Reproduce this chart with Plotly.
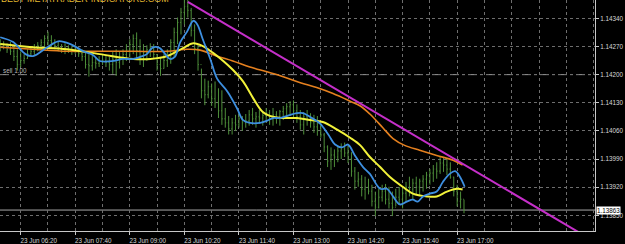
import plotly.graph_objects as go
import pandas as pd

# ---------------- data (M5 bars, 23 Jun) ----------------
day = "2016-06-23"
bar_start = "05:50"

highs = [
    1.14288, 1.14283, 1.14278, 1.14281, 1.14273, 1.14263, 1.14258, 1.14251, 1.14263, 1.14268,
    1.14276, 1.14281, 1.14288, 1.14298, 1.14307, 1.14298, 1.14288, 1.14283, 1.14276, 1.14278,
    1.14273, 1.14271, 1.14273, 1.14268, 1.14263, 1.14258, 1.14251, 1.14249, 1.14244, 1.14246,
    1.14251, 1.14249, 1.14244, 1.14258, 1.14263, 1.14258, 1.14263, 1.14276, 1.14288, 1.14300,
    1.14305, 1.14288, 1.14276, 1.14273, 1.14278, 1.14276, 1.14251, 1.14244, 1.14251, 1.14263,
    1.14288, 1.14317, 1.14342, 1.14366, 1.14386, 1.14398, 1.14366, 1.14325, 1.14276, 1.14215,
    1.14190, 1.14185, 1.14178, 1.14183, 1.14166, 1.14161, 1.14117, 1.14097, 1.14092, 1.14100,
    1.14104, 1.14097, 1.14102, 1.14112, 1.14117, 1.14107, 1.14112, 1.14109, 1.14117, 1.14112,
    1.14117, 1.14109, 1.14112, 1.14122, 1.14129, 1.14134, 1.14136, 1.14126, 1.14112, 1.14107,
    1.14112, 1.14104, 1.14100, 1.14097, 1.14080, 1.14055, 1.14024, 1.14019, 1.14014, 1.14024,
    1.14029, 1.14031, 1.14024, 1.14007, 1.13970, 1.13958, 1.13950, 1.13946, 1.13941, 1.13926,
    1.13909, 1.13916, 1.13926, 1.13928, 1.13921, 1.13909, 1.13916, 1.13921, 1.13916, 1.13933,
    1.13946, 1.13941, 1.13946, 1.13941, 1.13950, 1.13958, 1.13965, 1.13975, 1.13982, 1.13995,
    1.13995, 1.13990, 1.13982, 1.13946, 1.13926, 1.13909, 1.13889,
]
lows = [
    1.14258, 1.14263, 1.14254, 1.14249, 1.14234, 1.14210, 1.14219, 1.14227, 1.14239, 1.14244,
    1.14249, 1.14258, 1.14263, 1.14268, 1.14273, 1.14268, 1.14263, 1.14258, 1.14254, 1.14251,
    1.14254, 1.14249, 1.14251, 1.14244, 1.14234, 1.14215, 1.14195, 1.14210, 1.14215, 1.14219,
    1.14224, 1.14219, 1.14210, 1.14202, 1.14197, 1.14215, 1.14224, 1.14234, 1.14244, 1.14251,
    1.14239, 1.14224, 1.14219, 1.14234, 1.14244, 1.14239, 1.14210, 1.14197, 1.14215, 1.14219,
    1.14227, 1.14244, 1.14276, 1.14300, 1.14325, 1.14342, 1.14295, 1.14251, 1.14210, 1.14141,
    1.14124, 1.14141, 1.14122, 1.14117, 1.14092, 1.14075, 1.14068, 1.14051, 1.14051, 1.14060,
    1.14068, 1.14060, 1.14068, 1.14073, 1.14075, 1.14068, 1.14078, 1.14073, 1.14080, 1.14075,
    1.14073, 1.14078, 1.14073, 1.14087, 1.14092, 1.14097, 1.14092, 1.14080, 1.14063, 1.14051,
    1.14073, 1.14068, 1.14055, 1.14048, 1.14043, 1.14007, 1.13970, 1.13963, 1.13970, 1.13982,
    1.13990, 1.13995, 1.13980, 1.13946, 1.13914, 1.13921, 1.13897, 1.13889, 1.13902, 1.13872,
    1.13848, 1.13867, 1.13884, 1.13877, 1.13867, 1.13848, 1.13872, 1.13877, 1.13867, 1.13884,
    1.13897, 1.13889, 1.13902, 1.13897, 1.13909, 1.13916, 1.13926, 1.13933, 1.13941, 1.13953,
    1.13958, 1.13950, 1.13941, 1.13897, 1.13872, 1.13867, 1.13855,
]
closes = [
    1.14270, 1.14268, 1.14262, 1.14258, 1.14245, 1.14225, 1.14235, 1.14240, 1.14252, 1.14258,
    1.14265, 1.14272, 1.14280, 1.14290, 1.14285, 1.14280, 1.14272, 1.14265, 1.14262, 1.14266,
    1.14262, 1.14260, 1.14258, 1.14252, 1.14245, 1.14225, 1.14222, 1.14230, 1.14228, 1.14235,
    1.14236, 1.14230, 1.14225, 1.14238, 1.14230, 1.14240, 1.14250, 1.14262, 1.14275, 1.14290,
    1.14260, 1.14245, 1.14255, 1.14262, 1.14265, 1.14250, 1.14225, 1.14215, 1.14235, 1.14255,
    1.14280, 1.14305, 1.14330, 1.14355, 1.14370, 1.14360, 1.14310, 1.14265, 1.14225, 1.14160,
    1.14150, 1.14170, 1.14140, 1.14130, 1.14110, 1.14090, 1.14080, 1.14065, 1.14080, 1.14075,
    1.14090, 1.14080, 1.14085, 1.14100, 1.14090, 1.14095, 1.14092, 1.14098, 1.14105, 1.14090,
    1.14100, 1.14095, 1.14108, 1.14115, 1.14120, 1.14125, 1.14110, 1.14095, 1.14075, 1.14095,
    1.14090, 1.14080, 1.14070, 1.14060, 1.14050, 1.14020, 1.13985, 1.14000, 1.13995, 1.14010,
    1.14015, 1.14005, 1.13990, 1.13960, 1.13935, 1.13940, 1.13915, 1.13920, 1.13910, 1.13885,
    1.13870, 1.13895, 1.13910, 1.13890, 1.13880, 1.13870, 1.13895, 1.13890, 1.13905, 1.13920,
    1.13915, 1.13930, 1.13920, 1.13935, 1.13940, 1.13950, 1.13955, 1.13965, 1.13960, 1.13980,
    1.13975, 1.13965, 1.13945, 1.13910, 1.13885, 1.13890, 1.13863,
]
first_open = 1.14275

# fast MA (blue)
blue_times = ["05:50", "06:09", "06:27", "06:38", "06:59", "07:15", "07:33", "07:52", "08:06", "08:16",
              "08:36", "08:50", "09:05", "09:15", "09:25", "09:34", "09:44", "09:52", "09:59", "10:06",
              "10:14", "10:24", "10:33", "10:39", "10:47", "10:58", "11:08", "11:23", "11:37", "11:46",
              "11:56", "12:11", "12:21", "12:30", "12:40", "12:50", "13:05", "13:14", "13:24", "13:39",
              "13:51", "14:01", "14:11", "14:20", "14:30", "14:42", "14:52", "15:07", "15:17", "15:26",
              "15:36", "15:46", "15:55", "16:02", "16:10", "16:20", "16:30", "16:39", "16:49", "16:57",
              "17:04", "17:11"]
blue_values = [1.14293, 1.14281, 1.14251, 1.14246, 1.14268, 1.14283, 1.14276, 1.14258, 1.14249, 1.14234,
               1.14234, 1.14239, 1.14239, 1.14244, 1.14251, 1.14268, 1.14266, 1.14251, 1.14239, 1.14244,
               1.14281, 1.14307, 1.14334, 1.14325, 1.14288, 1.14239, 1.14190, 1.14158, 1.14117, 1.14087,
               1.14080, 1.14080, 1.14085, 1.14092, 1.14092, 1.14097, 1.14104, 1.14104, 1.14095, 1.14078,
               1.14051, 1.14026, 1.14019, 1.14026, 1.13999, 1.13970, 1.13953, 1.13916, 1.13916, 1.13897,
               1.13877, 1.13884, 1.13889, 1.13884, 1.13897, 1.13904, 1.13909, 1.13933, 1.13953, 1.13960,
               1.13946, 1.13921]

# medium MA (yellow)
yellow_times = ["05:50", "06:38", "07:28", "08:16", "09:05", "09:30", "09:55", "10:18", "10:33", "10:47",
                "11:02", "11:17", "11:31", "11:46", "12:01", "12:15", "12:30", "12:45", "13:05", "13:24",
                "13:43", "14:04", "14:23", "14:38", "14:52", "15:07", "15:21", "15:40", "15:55", "16:16",
                "16:30", "16:45", "17:00", "17:08"]
yellow_values = [1.14276, 1.14268, 1.14263, 1.14251, 1.14239, 1.14239, 1.14246, 1.14266, 1.14278, 1.14271,
                 1.14254, 1.14234, 1.14212, 1.14183, 1.14141, 1.14107, 1.14095, 1.14092, 1.14092, 1.14087,
                 1.14082, 1.14063, 1.14043, 1.14024, 1.13995, 1.13970, 1.13946, 1.13921, 1.13904, 1.13897,
                 1.13897, 1.13909, 1.13916, 1.13914]

# slow MA (orange)
orange_times = ["05:50", "06:38", "07:28", "08:16", "09:05", "09:55", "10:24", "10:43", "11:08", "11:31",
                "11:56", "12:21", "12:45", "13:10", "13:34", "13:58", "14:23", "14:38", "14:52", "15:11",
                "15:26", "15:43", "16:05", "16:30", "16:54", "17:08"]
orange_values = [1.14268, 1.14263, 1.14258, 1.14258, 1.14258, 1.14258, 1.14263, 1.14261, 1.14246, 1.14234,
                 1.14219, 1.14207, 1.14195, 1.14180, 1.14168, 1.14153, 1.14134, 1.14122, 1.14102, 1.14068,
                 1.14041, 1.14024, 1.14012, 1.13999, 1.13987, 1.13975]

# trend line (magenta)
trend_times = ["10:25", "20:00"]
trend_values = [1.14381, 1.13806]

# time axis labels (only where bars exist)
label_times = ["06:20", "07:40", "09:00", "10:20", "11:40", "13:00", "14:20", "15:40", "17:00"]

sell_level = 1.14200
sell_label = "sell 1.00"
current_price = 1.13863
watermark = "BEST-METATRADER-INDICATORS.COM"

# ---------------- build ----------------
n = min(len(highs), len(lows), len(closes))
bar_times = pd.date_range(f"{day} {bar_start}", periods=n, freq="5min")
opens = [first_open] + closes[:n - 1]

def ts(lst):
    return [f"{day} {t}" for t in lst]

GREEN = "#4E8F3A"
GRID = "#6E6E6E"
AXIS = "#C8C8C8"
TXT = "#D8D8D8"
FONT = "Liberation Sans"

fig = go.Figure()
fig.add_trace(go.Ohlc(
    x=bar_times, open=opens[:n], high=highs[:n], low=lows[:n], close=closes[:n],
    increasing_line_color=GREEN, decreasing_line_color=GREEN,
    line_width=1, tickwidth=0.25, showlegend=False, hoverinfo="skip"))
fig.add_trace(go.Scatter(x=ts(orange_times), y=orange_values, mode="lines",
                         line=dict(color="#E5801F", width=1.6, shape="spline", smoothing=1.0),
                         showlegend=False, hoverinfo="skip"))
fig.add_trace(go.Scatter(x=ts(yellow_times), y=yellow_values, mode="lines",
                         line=dict(color="#F2F23A", width=2, shape="spline", smoothing=1.0),
                         showlegend=False, hoverinfo="skip"))
fig.add_trace(go.Scatter(x=ts(blue_times), y=blue_values, mode="lines",
                         line=dict(color="#3D8FE0", width=1.8, shape="spline", smoothing=1.0),
                         showlegend=False, hoverinfo="skip"))
fig.add_trace(go.Scatter(x=ts(trend_times), y=trend_values, mode="lines",
                         line=dict(color="#C52FC9", width=2),
                         showlegend=False, hoverinfo="skip"))

fig.add_shape(type="line", xref="paper", x0=0, x1=1, yref="y", y0=sell_level, y1=sell_level,
              line=dict(color="#9A9A9A", width=1, dash="dashdot"), layer="below")
fig.add_shape(type="line", xref="paper", x0=0, x1=1, yref="y", y0=current_price, y1=current_price,
              line=dict(color="#A8A8A8", width=1), layer="below")

fig.add_annotation(text=watermark, xref="paper", x=0, xanchor="left", xshift=-1,
                   yref="paper", y=1, yanchor="middle", yshift=1, showarrow=False,
                   font=dict(family=FONT, size=9, color="#E2B830"))
fig.add_annotation(text=sell_label, xref="paper", x=0, xanchor="left", xshift=1,
                   yref="y", y=sell_level, yanchor="bottom", yshift=-1, showarrow=False,
                   font=dict(family=FONT, size=6.3, color="#B8B8B8"))
fig.add_annotation(text=f"{current_price:.5f}", xref="paper", x=1, xanchor="left", xshift=1,
                   yref="y", y=current_price, yanchor="middle", showarrow=False,
                   bgcolor="white", borderpad=0, font=dict(family=FONT, size=6.3, color="black"))

fig.update_layout(
    width=625, height=244,
    margin=dict(l=0, r=30, t=0, b=9),
    paper_bgcolor="black", plot_bgcolor="black",
    showlegend=False,
    font=dict(family=FONT, size=6.3, color=TXT),
    xaxis=dict(
        type="date",
        range=[f"{day} 05:49:39", f"{day} 20:22:06"],
        tickmode="array", tickvals=ts(label_times),
        tickformat="%d %b %H:%M",
        showgrid=True, gridcolor=GRID, griddash="dot", gridwidth=1,
        minor=dict(tickmode="linear", tick0=f"{day} 06:20", dtick=40 * 60 * 1000, showgrid=True,
                   gridcolor=GRID, griddash="dot", gridwidth=1),
        showline=True, linecolor=AXIS, linewidth=1,
        ticks="outside", ticklen=3, tickcolor=AXIS,
        ticklabelshift=18, ticklabelstandoff=0,
        rangeslider=dict(visible=False), zeroline=False,
        tickfont=dict(family=FONT, size=6.3, color=TXT),
    ),
    yaxis=dict(
        side="right",
        range=[1.138109, 1.143857],
        tick0=1.13850, dtick=0.0007, tickformat=".5f",
        showgrid=True, gridcolor=GRID, griddash="dot", gridwidth=1,
        showline=True, linecolor=AXIS, linewidth=1,
        ticks="outside", ticklen=3, tickcolor=AXIS,
        zeroline=False,
        tickfont=dict(family=FONT, size=6.3, color=TXT),
    ),
)

fig.write_html("out.html")
